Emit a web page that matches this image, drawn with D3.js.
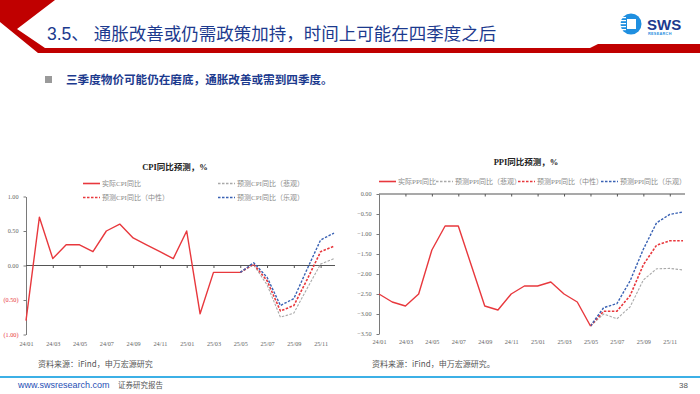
<!DOCTYPE html>
<html><head><meta charset="utf-8">
<script src="https://cdn.jsdelivr.net/npm/d3@7"></script>
<style>
html,body{margin:0;padding:0;background:#fff;}
svg{display:block;}
</style></head>
<body><svg id="c" width="700" height="394"></svg>
<script>
// ---- data ----
const months = ["24/01","24/02","24/03","24/04","24/05","24/06","24/07","24/08","24/09","24/10","24/11","24/12",
                "25/01","25/02","25/03","25/04","25/05","25/06","25/07","25/08","25/09","25/10","25/11","25/12"];
const tickMonths = ["24/01","24/03","24/05","24/07","24/09","24/11","25/01","25/03","25/05","25/07","25/09","25/11"];
const actualMonths = months.slice(0, 17);
const forecastMonths = months.slice(16);

const cpiActual = [-0.8,0.7,0.1,0.3,0.3,0.2,0.5,0.6,0.4,0.3,0.2,0.1,0.5,-0.7,-0.1,-0.1,-0.1];
const cpiPessimistic = [-0.1,0.01,-0.28,-0.75,-0.69,-0.33,0.02,0.1];
const cpiNeutral     = [-0.1,0.02,-0.22,-0.66,-0.58,-0.2,0.2,0.28];
const cpiOptimistic  = [-0.1,0.04,-0.17,-0.58,-0.48,-0.05,0.37,0.47];
const cpiTicks = [1,0.5,0,-0.5,-1];

const ppiActual = [-2.5,-2.7,-2.8,-2.5,-1.4,-0.8,-0.8,-1.8,-2.8,-2.9,-2.5,-2.3,-2.3,-2.2,-2.5,-2.7,-3.3];
const ppiPessimistic = [-3.3,-3.0,-3.12,-2.82,-2.15,-1.87,-1.86,-1.9];
const ppiNeutral     = [-3.3,-2.93,-2.93,-2.54,-1.77,-1.28,-1.17,-1.17];
const ppiOptimistic  = [-3.3,-2.84,-2.74,-2.17,-1.38,-0.72,-0.51,-0.45];
const ppiTicks = [0,-0.5,-1,-1.5,-2,-2.5,-3,-3.5];

const cpiLegend = ["实际CPI同比","预测CPI同比（悲观）","预测CPI同比（中性）","预测CPI同比（乐观）"];
const ppiLegend = ["实际PPI同比","预测PPI同比（悲观）","预测PPI同比（中性）","预测PPI同比（乐观）"];

// ---- styles ----
const RED = "#e8383d", BLUE = "#3a62b4", GRAY = "#a9a9a9", NAVY = "#1c3a8e";
const serif = "'Liberation Serif','Noto Sans CJK SC',serif";
const cjk = "'Noto Sans CJK SC','Liberation Sans',sans-serif";
const seriesStyle = [
  {color:RED, dash:null, w:1.4},
  {color:GRAY, dash:"2.5,1.5", w:1.1},
  {color:RED, dash:"2.5,1.5", w:1.6},
  {color:BLUE, dash:"2.5,1.5", w:1.4}
];

const svg = d3.select("#c");

// ---- header ----
svg.append("polygon")
  .attr("points","0,0 55,0 17,29 45,48 590,48 598,44 700,44 700,53 38,53 0,22")
  .attr("fill","#c00000");
svg.append("text").attr("x",47).attr("y",40)
  .attr("font-family","'Liberation Sans','Noto Sans CJK SC',sans-serif")
  .attr("font-size",17.5).attr("fill",NAVY)
  .text("3.5、 通胀改善或仍需政策加持，时间上可能在四季度之后");

// logo
const logo = svg.append("g").attr("transform","translate(631,24)");
logo.append("circle").attr("r",10.5).attr("fill","#1f8fe0");
logo.append("rect").attr("x",-4).attr("y",-5).attr("width",9).attr("height",10).attr("fill","#fff");
[-7,-4,-1,2,5].forEach(dy=>{
  logo.append("rect").attr("x",-11).attr("y",dy).attr("width",6).attr("height",1.2).attr("fill","#fff");
});
svg.append("text").attr("x",647).attr("y",30).attr("font-family","'Liberation Sans',sans-serif")
  .attr("font-weight","bold").attr("font-size",15).attr("fill","#1c3a8e").text("SWS");
svg.append("text").attr("x",648).attr("y",35).attr("font-family","'Liberation Sans',sans-serif")
  .attr("font-weight","bold").attr("font-size",3.8).attr("fill","#1f8fe0").attr("letter-spacing",0.3).text("RESEARCH");

// subtitle
svg.append("rect").attr("x",45).attr("y",76).attr("width",7).attr("height",7).attr("fill","#9a9a9a");
svg.append("text").attr("x",66).attr("y",84).attr("font-family",cjk).attr("font-weight","bold")
  .attr("font-size",11.6).attr("fill",NAVY).text("三季度物价可能仍在磨底，通胀改善或需到四季度。");

// ---- chart helper ----
function drawChart(cfg){
  const g = svg.append("g");
  const x = d3.scalePoint().domain(months).range(cfg.xr);
  const y = d3.scaleLinear().domain(cfg.yd).range(cfg.yr);

  // title
  g.append("text").attr("x",cfg.titleX).attr("y",cfg.titleY).attr("text-anchor","middle")
    .attr("font-family",serif).attr("font-weight","bold").attr("font-size",8.5).attr("fill","#222")
    .text(cfg.title);

  // legend
  cfg.legendPos.forEach((p,i)=>{
    const s = seriesStyle[i];
    g.append("line").attr("x1",p[0]).attr("x2",p[0]+17).attr("y1",p[1]).attr("y2",p[1])
      .attr("stroke",s.color).attr("stroke-width",s.dash? 1.5 : 1.6)
      .attr("stroke-dasharray",s.dash);
    g.append("text").attr("x",p[0]+19).attr("y",p[1]+2.5).attr("font-family",serif)
      .attr("font-size",7).attr("fill","#8a8a8a").text(cfg.legend[i]);
  });

  // y axis
  const ya = g.append("g").attr("transform",`translate(${cfg.xr[0]},0)`)
    .call(d3.axisLeft(y).tickValues(cfg.yTicks).tickSize(2.5).tickSizeOuter(0).tickPadding(5).tickFormat(cfg.yFmt));
  ya.select(".domain").attr("stroke","#7a7a7a").attr("stroke-width",1);
  ya.selectAll(".tick line").attr("stroke","#7a7a7a");
  ya.selectAll(".tick text").attr("font-family",serif).attr("font-size",6.2)
    .attr("fill",d=>cfg.negRed && d<0 ? RED : "#666");

  // zero axis with ticks
  const xa = g.append("g").attr("transform",`translate(0,${y(0)})`)
    .call(d3.axisBottom(x).tickValues(tickMonths.slice(1)).tickSize(2.5).tickSizeOuter(0).tickFormat(""));
  xa.select(".domain").attr("stroke","#555").attr("stroke-width",1.1)
    .attr("d",`M${cfg.xr[0]},0H${cfg.xEnd}`);
  xa.selectAll(".tick line").attr("stroke","#555");

  // bottom labels
  const xl = g.append("g").attr("transform",`translate(0,${cfg.labelY})`)
    .call(d3.axisBottom(x).tickValues(tickMonths).tickSize(0).tickPadding(0));
  xl.select(".domain").remove();
  xl.selectAll(".tick text").attr("font-family",serif).attr("font-size",6.2).attr("fill","#666");

  const line = d3.line().x(d=>x(d.m)).y(d=>y(d.v));
  const mk = (ms, vs) => ms.map((m,i)=>({m, v:vs[i]}));
  const series = [
    {d: mk(forecastMonths, cfg.pess), s: seriesStyle[1]},
    {d: mk(forecastMonths, cfg.neut), s: seriesStyle[2]},
    {d: mk(forecastMonths, cfg.opt),  s: seriesStyle[3]},
    {d: mk(actualMonths, cfg.actual), s: seriesStyle[0]}
  ];
  series.forEach(o=>{
    g.append("path").datum(o.d).attr("d",line).attr("fill","none")
      .attr("stroke",o.s.color).attr("stroke-width",o.s.w)
      .attr("stroke-dasharray",o.s.dash).attr("stroke-linejoin","round");
  });
}

drawChart({
  title:"CPI同比预测，%", titleX:175, titleY:170,
  legend:cpiLegend, legendPos:[[83,183.5],[218,183.5],[83,197.5],[218,197.5]],
  xr:[26,334], xEnd:335, yd:[-1,1], yr:[334.5,196.5], yTicks:cpiTicks,
  yFmt:d=> d<0 ? "("+d3.format(".2f")(-d)+")" : d3.format(".2f")(d), negRed:true,
  labelY:341.5,
  actual:cpiActual, pess:cpiPessimistic, neut:cpiNeutral, opt:cpiOptimistic
});

drawChart({
  title:"PPI同比预测，%", titleX:526, titleY:165,
  legend:ppiLegend, legendPos:[[379,181.5],[436,181.5],[518,181.5],[601,181.5]],
  xr:[379,683], xEnd:685, yd:[-3.5,0], yr:[334,194], yTicks:ppiTicks,
  yFmt:d3.format(".2f"), negRed:false,
  labelY:339.5,
  actual:ppiActual, pess:ppiPessimistic, neut:ppiNeutral, opt:ppiOptimistic
});

// sources
svg.append("text").attr("x",38).attr("y",367).attr("font-family",cjk).attr("font-size",8).attr("fill","#555")
  .text("资料来源：iFind，申万宏源研究");
svg.append("text").attr("x",372).attr("y",367).attr("font-family",cjk).attr("font-size",8).attr("fill","#555")
  .text("资料来源：iFind，申万宏源研究。");

// footer
svg.append("rect").attr("x",0).attr("y",376).attr("width",700).attr("height",2).attr("fill","#3cb0e6");
svg.append("text").attr("x",18).attr("y",388).attr("font-family","'Liberation Sans',sans-serif").attr("font-size",9)
  .attr("fill","#1f4fb5").text("www.swsresearch.com");
svg.append("text").attr("x",118).attr("y",388).attr("font-family",cjk).attr("font-size",7.5)
  .attr("fill","#555").text("证券研究报告");
svg.append("text").attr("x",688).attr("y",388).attr("text-anchor","end").attr("font-family","'Liberation Sans',sans-serif")
  .attr("font-size",8).attr("fill","#555").text("38");
</script>
</body></html>
